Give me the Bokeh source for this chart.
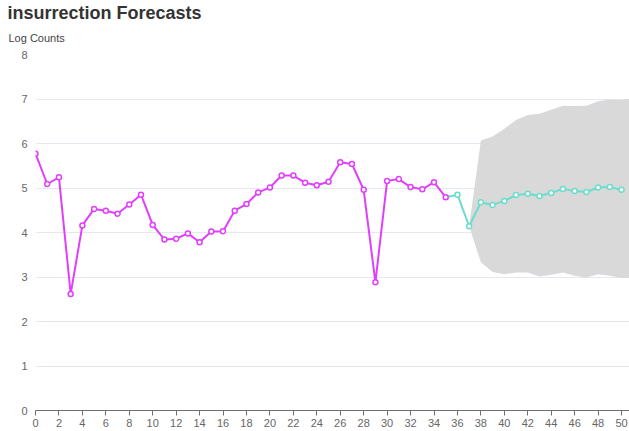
from bokeh.plotting import figure
from bokeh.models import Range1d, Title, FixedTicker
from bokeh.embed import file_html
from bokeh.resources import INLINE

# observed series (x = 0..35)
obs_x = list(range(0, 36))
obs_y = [5.77, 5.09, 5.24, 2.62, 4.16, 4.53, 4.49, 4.42, 4.63, 4.85,
         4.17, 3.84, 3.86, 3.98, 3.78, 4.02, 4.03, 4.49, 4.64, 4.90,
         5.01, 5.28, 5.28, 5.12, 5.06, 5.14, 5.58, 5.54, 4.96, 2.88,
         5.16, 5.20, 5.02, 4.97, 5.13, 4.79]

# forecast series (x = 35..50)
fc_x = list(range(35, 51))
fc_y = [4.79, 4.85, 4.14, 4.68, 4.62, 4.71, 4.84, 4.87, 4.82, 4.89,
        4.98, 4.93, 4.91, 5.01, 5.02, 4.96]

# uncertainty band (x = 37..51)
band_x = list(range(37, 52))
band_upper = [4.14, 6.07, 6.16, 6.33, 6.53, 6.64, 6.67, 6.76, 6.85, 6.84,
              6.85, 6.95, 6.99, 6.98, 7.02]
band_lower = [4.14, 3.33, 3.11, 3.06, 3.10, 3.10, 3.01, 3.05, 3.10, 3.03,
              2.99, 3.06, 3.03, 2.98, 2.98]

y_ticks = [0, 1, 2, 3, 4, 5, 6, 7, 8]
x_ticks = list(range(0, 51, 2))

MAGENTA = "#e040fb"
TEAL = "#6cdccb"
FONT = "Liberation Sans"

p = figure(width=629, height=431, output_backend="svg", toolbar_location=None,
           x_range=Range1d(0, 50.68), y_range=Range1d(0, 8),
           min_border_left=35, min_border_right=0, min_border_top=10,
           min_border_bottom=21, title=None)
p.outline_line_color = None
p.background_fill_color = "white"
p.border_fill_color = "white"

p.add_layout(Title(text="Log Counts", text_font=FONT, text_font_size="11px",
                   text_font_style="normal", text_color="#444444",
                   align="left", vertical_align="top", offset=-27, standoff=17), "above")
p.add_layout(Title(text="insurrection Forecasts", text_font=FONT,
                   text_font_size="18px", text_font_style="bold",
                   text_color="#333333", align="left", offset=-28, standoff=1), "above")

p.varea(x=band_x, y1=band_lower, y2=band_upper, fill_color="#d9d9d9", fill_alpha=1.0)

p.line(obs_x, obs_y, line_color=MAGENTA, line_width=2)
p.line(fc_x, fc_y, line_color=TEAL, line_width=2)
p.scatter(fc_x[1:], fc_y[1:], size=5, marker="circle", fill_color="white",
          line_color=TEAL, line_width=1.5)
p.scatter(obs_x, obs_y, size=5, marker="circle", fill_color="white",
          line_color=MAGENTA, line_width=1.5)

p.xgrid.visible = False
p.ygrid.grid_line_color = "#e6e8f0"
p.ygrid.ticker = FixedTicker(ticks=y_ticks)

p.yaxis.ticker = FixedTicker(ticks=y_ticks)
p.yaxis.axis_line_color = None
p.yaxis.major_tick_line_color = None
p.yaxis.major_tick_out = 0
p.yaxis.major_tick_in = 0
p.yaxis.minor_tick_line_color = None
p.yaxis.major_label_text_font = FONT
p.yaxis.major_label_text_font_size = "11px"
p.yaxis.major_label_text_color = "#666666"
p.yaxis.major_label_standoff = 8

p.xaxis.ticker = FixedTicker(ticks=x_ticks)
p.xaxis.axis_line_color = "#6e7079"
p.xaxis.major_tick_line_color = "#6e7079"
p.xaxis.major_tick_out = 5
p.xaxis.major_tick_in = 0
p.xaxis.minor_tick_line_color = None
p.xaxis.major_label_text_font = FONT
p.xaxis.major_label_text_font_size = "11px"
p.xaxis.major_label_text_color = "#666666"
p.xaxis.major_label_standoff = 3

open("out.html", "w").write(file_html(p, INLINE))
